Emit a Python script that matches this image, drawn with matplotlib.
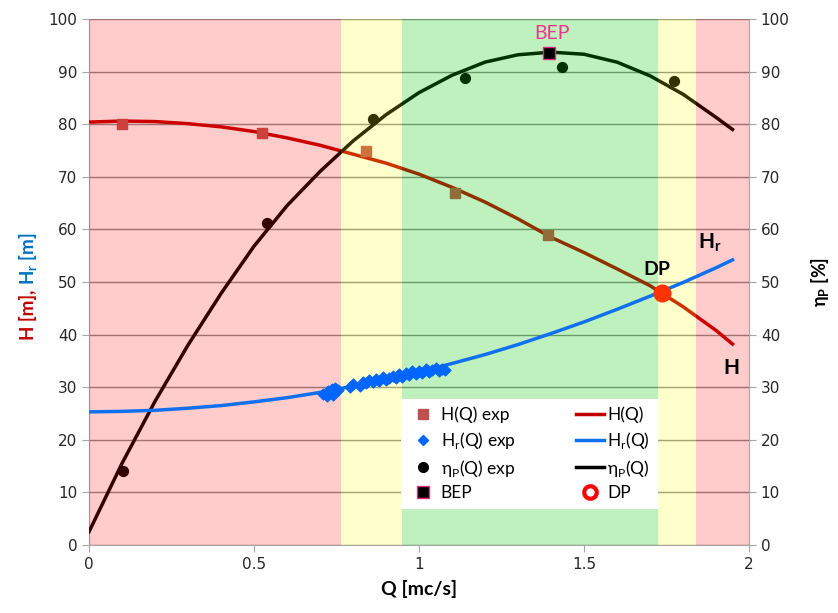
import matplotlib
matplotlib.use("Agg")
import matplotlib.pyplot as plt
from matplotlib.lines import Line2D

plt.rcParams['font.family'] = ['Lato', 'DejaVu Sans']
plt.rcParams['mathtext.fontset'] = 'custom'
plt.rcParams['mathtext.rm'] = 'Lato'
plt.rcParams['mathtext.bf'] = 'Lato:bold'
plt.rcParams['mathtext.fallback'] = 'stixsans'

# fitted curves
q_curve = [0, 0.1, 0.2, 0.3, 0.4, 0.5, 0.6, 0.7, 0.8, 0.9, 1.0,
           1.1, 1.2, 1.3, 1.4, 1.5, 1.6, 1.7, 1.8, 1.9, 1.95]
h_curve = [80.4, 80.6, 80.5, 80.1, 79.5, 78.6, 77.4, 76.0, 74.3, 72.6, 70.5,
           68.0, 65.2, 62.0, 58.5, 55.6, 52.5, 49.3, 45.3, 40.8, 38.2]
hr_curve = [25.3, 25.4, 25.6, 26.0, 26.5, 27.2, 28.0, 29.0, 30.2, 31.5, 32.9,
            34.5, 36.2, 38.1, 40.2, 42.4, 44.8, 47.3, 49.9, 52.7, 54.2]
eta_curve = [2.5, 15.5, 27.3, 38.0, 47.8, 56.8, 64.5, 71.0, 76.8, 81.8, 86.0,
             89.3, 91.8, 93.2, 93.7, 93.3, 91.8, 89.2, 85.7, 81.3, 79.0]

# experimental points
q_h_exp = [0.10, 0.525, 0.84, 1.11, 1.39]
h_exp = [80.0, 78.3, 74.9, 66.9, 58.9]
q_eta_exp = [0.103, 0.54, 0.862, 1.14, 1.432, 1.772]
eta_exp = [14.1, 61.2, 81.0, 88.8, 90.9, 88.2]
q_hr_exp = [0.71, 0.72, 0.725, 0.73, 0.735, 0.74, 0.745, 0.75, 0.755,
            0.79, 0.80, 0.82, 0.83, 0.84, 0.85, 0.86, 0.87, 0.88, 0.89,
            0.90, 0.91, 0.92, 0.93, 0.94, 0.95, 0.96, 0.97, 0.98, 0.99,
            1.00, 1.01, 1.02, 1.03, 1.04, 1.05, 1.06, 1.07, 1.08]
hr_exp = [28.7, 28.4, 29.3, 28.9, 29.6, 28.6, 29.8, 29.2, 29.5,
          30.0, 30.6, 30.3, 31.0, 30.7, 31.3, 30.9, 31.5, 31.1, 31.9,
          31.4, 31.7, 32.2, 31.8, 32.5, 32.0, 32.6, 32.3, 33.0, 32.5,
          33.1, 32.7, 33.4, 32.9, 33.3, 33.6, 33.1, 33.5, 33.3]

bep_q, bep_eta = 1.393, 93.6
dp_q, dp_h = 1.736, 47.9

# operating zones
zone_edges = [0, 0.765, 0.947, 1.724, 1.839, 2.0]
zone_colors = ['red', 'yellow', '#00c800', 'yellow', 'red']
zone_alpha = [0.2, 0.2, 0.25, 0.2, 0.2]

fig = plt.figure(figsize=(8.38, 6.13), dpi=100)
ax = fig.add_axes([0.1062, 0.111, 0.7876, 0.858])

ax.plot(q_curve, h_curve, color='#C00000', lw=2.5, zorder=3)
ax.plot(q_curve, eta_curve, color='black', lw=2.5, zorder=3)
ax.scatter(q_h_exp, h_exp, marker='s', s=45, color='#C0504D', zorder=4)
ax.scatter(q_eta_exp, eta_exp, marker='o', s=50, color='black', zorder=4)

for i in range(len(zone_colors)):
    ax.axvspan(zone_edges[i], zone_edges[i + 1], color=zone_colors[i],
               alpha=zone_alpha[i], lw=0, zorder=5)

ax.plot(q_curve, hr_curve, color='#1070F0', lw=2.5, zorder=6)
ax.scatter(q_hr_exp, hr_exp, marker='D', s=30, color='#0066FF', zorder=6)
ax.plot([bep_q], [bep_eta], marker='s', ms=9, mfc='black', mec='#E0307A',
        mew=1, ls='none', zorder=7)
ax.plot([dp_q], [dp_h], marker='o', ms=12, mfc='#FF3300', mec='#FF3300',
        ls='none', zorder=7)

ax.text(1.402, 97.3, 'BEP', color='#F0338C', fontsize=14, ha='center',
        va='center', zorder=8)
ax.text(1.721, 52.3, 'DP', color='black', fontsize=14, fontweight='bold',
        ha='center', va='center', zorder=8)
ax.text(1.88, 57.5, r'$\mathbf{H_r}$', color='black', fontsize=15,
        ha='center', va='center', zorder=8)
ax.text(1.948, 33.7, 'H', color='black', fontsize=15, fontweight='bold',
        ha='center', va='center', zorder=8)

ax.set_xlim(0, 2)
ax.set_ylim(0, 100)
ax.set_xticks([0, 0.5, 1, 1.5, 2])
ax.set_xticklabels(['0', '0.5', '1', '1.5', '2'])
ax.set_yticks(range(0, 101, 10))
ax.grid(axis='y', color='#8c8c8c', lw=1, zorder=1)
ax.set_axisbelow(True)
for s in ['left', 'right', 'bottom']:
    ax.spines[s].set_color('#a6a6a6')
ax.spines['top'].set_visible(False)
ax.tick_params(colors='#a6a6a6', labelcolor='#262626', length=5,
               labelsize=11, labelfontfamily='DejaVu Sans')

ax2 = ax.twinx()
ax2.set_ylim(0, 100)
ax2.set_yticks(range(0, 101, 10))
for s in ['left', 'right', 'bottom', 'top']:
    ax2.spines[s].set_visible(False)
ax2.tick_params(colors='#a6a6a6', labelcolor='#262626', length=5,
                labelsize=11, labelfontfamily='DejaVu Sans')
ax2.set_ylabel(r'$\mathbf{η_P}$ [%]', fontsize=13, fontweight='bold',
               labelpad=14)

ax.set_xlabel('Q [mc/s]', fontsize=14, fontweight='bold', labelpad=6)

# two-colour y label, red part below, blue part above
fig.text(0.033, 0.535, 'H [m], ', color='#C00000', fontsize=13.5,
         fontweight='bold', rotation=90, ha='center', va='top')
fig.text(0.033, 0.535, r'$\mathbf{H_r}$ [m]', color='#0070C0', fontsize=13.5,
         fontweight='bold', rotation=90, ha='center', va='bottom')

handles = [
    Line2D([], [], marker='s', ls='none', color='#C0504D', ms=7),
    Line2D([], [], marker='D', ls='none', color='#0066FF', ms=5),
    Line2D([], [], marker='o', ls='none', color='black', ms=7),
    Line2D([], [], marker='s', ls='none', mfc='black', mec='#E0307A', ms=8),
    Line2D([], [], color='#C00000', lw=2.5),
    Line2D([], [], color='#1070F0', lw=2.5),
    Line2D([], [], color='black', lw=2.5),
    Line2D([], [], marker='o', ls='none', mfc='white', mec='red', mew=3, ms=9),
]
labels = ['H(Q) exp', r'H$_\mathrm{r}$(Q) exp', r'η$_\mathrm{P}$(Q) exp', 'BEP',
          'H(Q)', r'H$_\mathrm{r}$(Q)', r'η$_\mathrm{P}$(Q)', 'DP']
leg = ax.legend(handles, labels, ncol=2, loc='upper left',
                bbox_to_anchor=(0.4734, 0.0703, 0.3886, 0.2073), mode='expand',
                fontsize=12.5, frameon=True, facecolor='white', edgecolor='none',
                framealpha=1, fancybox=False, handlelength=1.6,
                handletextpad=0.2, labelspacing=0.38, columnspacing=0.5,
                borderpad=0.45, borderaxespad=0)
leg.set_zorder(10)

fig.savefig('out.png', dpi=100)
